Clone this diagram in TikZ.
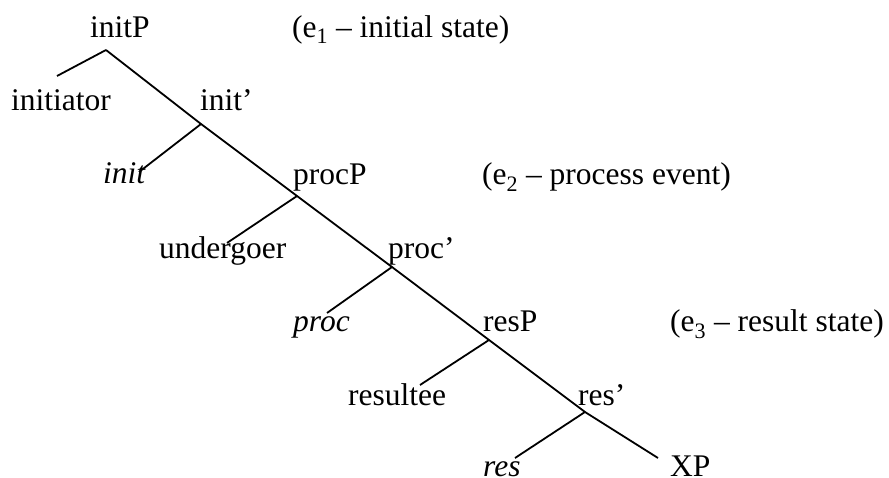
\documentclass[tikz,border=0pt]{standalone}
\usepackage{fontspec}
\setmainfont{Liberation Serif}
\begin{document}
\begin{tikzpicture}[x=1pt,y=-1pt,
  lbl/.style={anchor=base west,inner sep=0pt,font=\fontsize{31.5}{36}\selectfont},
  br/.style={line width=1.8pt}]
\useasboundingbox (0,0) rectangle (889,478);
% labels
\node[lbl] (initP) at (90,38) {initP};
\node[lbl] (e1) at (292,38) {(e\textsubscript{1} – initial state)};
\node[lbl] (initiator) at (11,111) {initiator};
\node[lbl] (initb) at (200,111) {init’};
\node[lbl] (init) at (103,184) {\itshape init};
\node[lbl] (procP) at (293,185) {procP};
\node[lbl] (e2) at (482,185) {(e\textsubscript{2} – process event)};
\node[lbl] (undergoer) at (159,259) {undergoer};
\node[lbl] (procb) at (388,259) {proc’};
\node[lbl] (proc) at (293,332) {\itshape proc};
\node[lbl] (resP) at (483,332) {resP};
\node[lbl] (e3) at (670,332) {(e\textsubscript{3} – result state)};
\node[lbl] (resultee) at (348,405) {resultee};
\node[lbl] (resb) at (578,405) {res’};
\node[lbl] (res) at (483,476) {\itshape res};
\node[lbl] (XP) at (670,476) {XP};
% junctions
\coordinate (j0) at (106,50);
\coordinate (j1) at (201,124);
\coordinate (j2) at (297,196);
\coordinate (j3) at (392,267);
\coordinate (j4) at (489,340);
\coordinate (j5) at (585,412);
\coordinate (jx) at (658,458);
% spine
\draw[br] (j0) -- (j1) -- (j2) -- (j3) -- (j4) -- (j5) -- (jx);
% left branches
\draw[br] (j0) -- (57,76);
\draw[br] (j1) -- (139,172);
\draw[br] (j2) -- (227,243);
\draw[br] (j3) -- (327,313);
\draw[br] (j4) -- (420,385);
\draw[br] (j5) -- (515,458);
\end{tikzpicture}
\end{document}
